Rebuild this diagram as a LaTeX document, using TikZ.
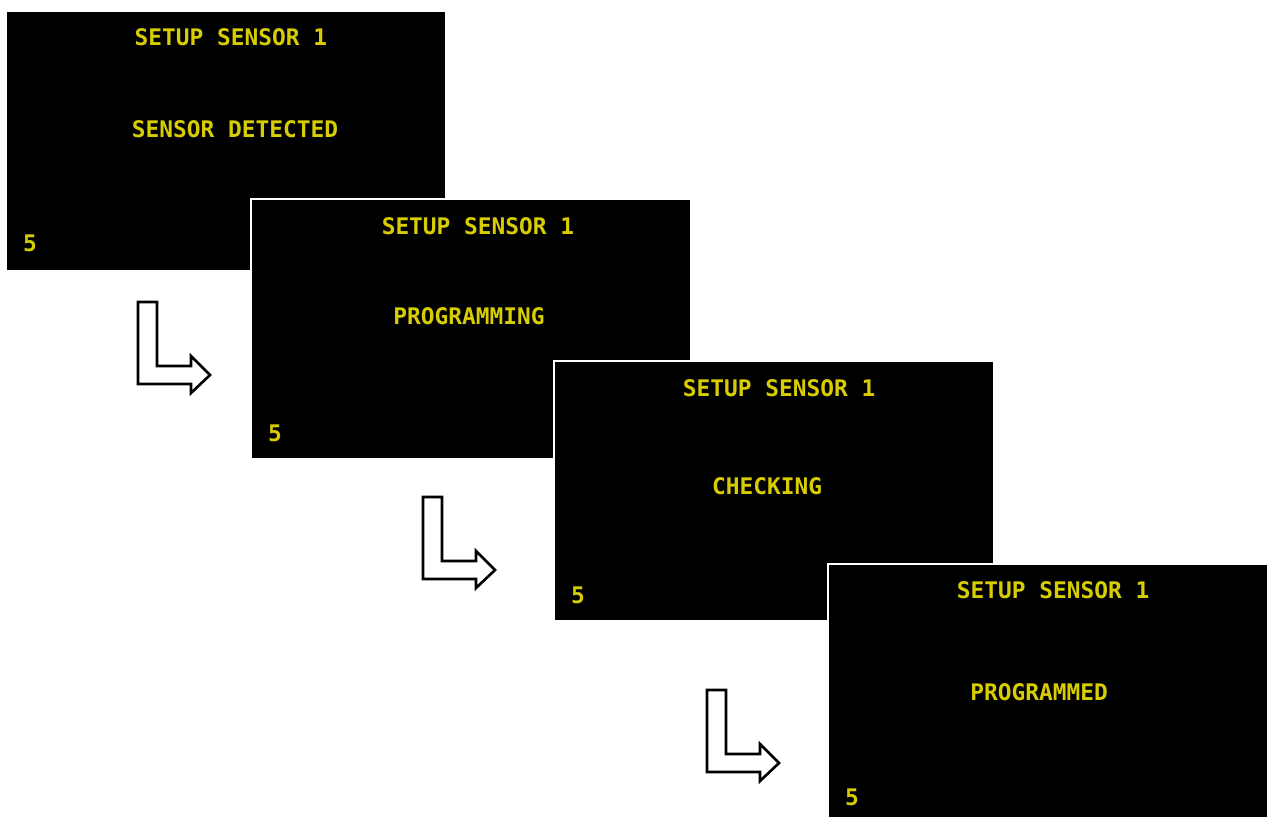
\documentclass[tikz,border=0pt]{standalone}
\usepackage{fontspec}
\newfontfamily\lcdfont{DejaVu Sans Mono}
\definecolor{lcdyellow}{RGB}{215,205,0}

\tikzset{
  screen/.style={rectangle, fill=black, draw=white, line width=1.2pt,
    minimum width=8.8cm, minimum height=5.2cm, anchor=north west, inner sep=0pt},
  lcd/.style={text=lcdyellow, font=\lcdfont\bfseries\fontsize{13}{15}\selectfont, inner sep=0pt},
  turn/.pic={\draw[line width=1.5pt, fill=white, line join=miter]
    (0,0) -- (19,0) -- (19,64) -- (53,64) -- (53,54) -- (72,73)
    -- (53,91) -- (53,82) -- (0,82) -- cycle;}
}

\begin{document}
\begin{tikzpicture}[x=0.02cm, y=-0.02cm]
    \path[use as bounding box, fill=white] (0,0) rectangle (1273,816);

    % screens
    \node[screen] (scr1) at (5,10) {};
    \node[lcd] (title1) at (231,37) {SETUP SENSOR 1};
    \node[lcd] (msg1) at (235,129) {SENSOR DETECTED};
    \node[lcd] (cnt1) at (30,243) {5};

    \node[screen] (scr2) at (250,198) {};
    \node[lcd] (title2) at (478,226) {SETUP SENSOR 1};
    \node[lcd] (msg2) at (469,316) {PROGRAMMING};
    \node[lcd] (cnt2) at (275,433) {5};

    \node[screen] (scr3) at (553,360) {};
    \node[lcd] (title3) at (779,388) {SETUP SENSOR 1};
    \node[lcd] (msg3) at (767,486) {CHECKING};
    \node[lcd] (cnt3) at (578,595) {5};

    \node[screen] (scr4) at (827,563) {};
    \node[lcd] (title4) at (1053,590) {SETUP SENSOR 1};
    \node[lcd] (msg4) at (1039,692) {PROGRAMMED};
    \node[lcd] (cnt4) at (852,797) {5};

    % steps
    \pic at (138,302) {turn};
    \pic at (423,497) {turn};
    \pic at (707,690) {turn};
\end{tikzpicture}
\end{document}
